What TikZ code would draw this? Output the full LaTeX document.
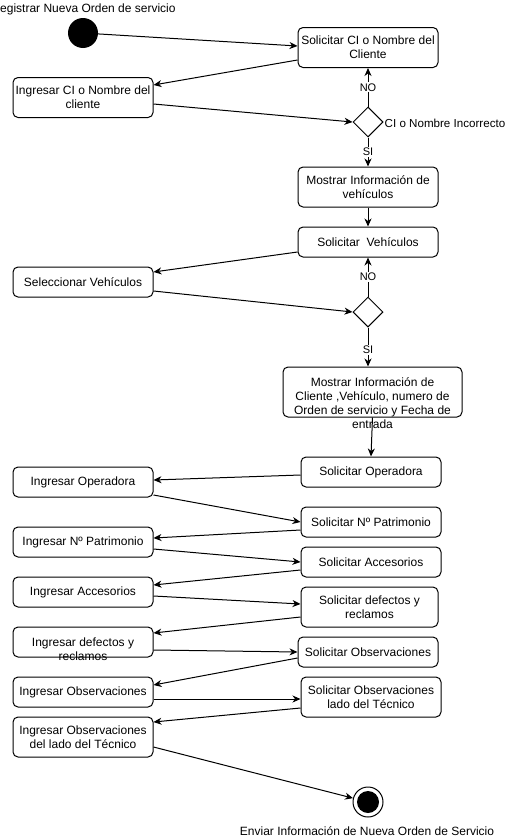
\documentclass[tikz,border=0pt]{standalone}
\usepackage{fontspec}
\setmainfont{Liberation Sans}
\usetikzlibrary{shapes.geometric,arrows.meta}
\begin{document}
\begin{tikzpicture}[x=1pt,y=-1pt,
  font=\fontsize{12}{14}\selectfont,
  act/.style={draw, line width=1pt, rounded corners=5pt, minimum width=140pt, minimum height=30pt, inner sep=1pt, align=center},
  acttall/.style={act, minimum height=40pt},
  dec/.style={draw, line width=1pt, diamond, minimum width=30pt, minimum height=30pt, inner sep=0pt},
  arr/.style={line width=1pt, -{Stealth[length=8pt,width=7pt,inset=2.5pt]}},
  lbl/.style={fill=white, inner sep=1pt, font=\fontsize{11}{13}\selectfont},
  txt/.style={inner sep=0pt, align=center}]
\useasboundingbox (0,0) rectangle (507,838);
\clip (0,0) rectangle (507,838);

% start / end
\node[circle, fill=black, minimum size=30pt, inner sep=0pt] (inicio) at (83,33) {};
\node[txt, anchor=west] (tinicio) at (0,9) {egistrar Nueva Orden de servicio};
\node[circle, draw, line width=1pt, minimum size=30pt, inner sep=0pt] (fin) at (368,802) {};
\fill (fin.center) circle (11pt);
\node[txt] (tfin) at (367,831) {Enviar Información de Nueva Orden de Servicio};

% right column
\node[acttall] (A1) at (368,47.5) {Solicitar CI o Nombre del\\Cliente};
\node[dec] (D1) at (368,122) {};
\node[txt, anchor=west, font=\fontsize{11.6}{14}\selectfont] (tD1) at (384.5,123) {CI o Nombre Incorrecto};
\node[acttall] (A2) at (368,187) {Mostrar Información de\\vehículos};
\node[act] (A3) at (368,242) {Solicitar\ \ Vehículos};
\node[dec] (D2) at (368,312) {};
\node[draw, line width=1pt, rounded corners=5pt, minimum width=179pt, minimum height=50pt] (A4) at (372.5,392) {};
\node[txt] (A4t) at (372.5,403) {Mostrar Información de\\Cliente ,Vehículo, numero de\\Orden de servicio y Fecha de\\entrada};
\node[act] (A5) at (371,472) {Solicitar Operadora};
\node[act] (A6) at (371,522) {Solicitar Nº Patrimonio};
\node[act] (A7) at (371,562) {Solicitar Accesorios};
\node[acttall, minimum width=137pt] (A8) at (369.5,607) {Solicitar defectos y\\reclamos};
\node[act] (A9) at (368,652) {Solicitar Observaciones};
\node[acttall] (A10) at (371,697) {Solicitar Observaciones\\lado del Técnico};

% left column
\node[acttall] (B1) at (83,97.5) {Ingresar CI o Nombre del\\cliente};
\node[act] (B2) at (83,282) {Seleccionar Vehículos};
\node[act] (B3) at (83,482) {Ingresar Operadora};
\node[act] (B4) at (83,542) {Ingresar Nº Patrimonio};
\node[act] (B5) at (83,592) {Ingresar Accesorios};
\node[act] (B6) at (83,642) {};
\node[txt] (B6t) at (83,649) {Ingresar defectos y\\reclamos};
\node[act] (B7) at (83,692) {Ingresar Observaciones};
\node[acttall] (B8) at (83,737) {Ingresar Observaciones\\del lado del Técnico};

% connectors
\draw[arr] (inicio) -- ([yshift=1.5pt]A1.west);
\draw[arr] ([yshift=-12.5pt]A1.west) -- ([yshift=12.5pt]B1.east);
\draw[arr] ([yshift=-6.5pt]B1.east) -- (D1.west);
\draw[arr] (D1.north) -- node[lbl] {NO} (A1.south);
\draw[arr] (D1.south) -- node[lbl] {SI} (A2.north);
\draw[arr] (A2.south) -- (A3.north);
\draw[arr] ([yshift=-10pt]A3.west) -- ([yshift=10pt]B2.east);
\draw[arr] ([yshift=-9pt]B2.east) -- (D2.west);
\draw[arr] (D2.north) -- node[lbl] {NO} (A3.south);
\draw[arr] (D2.south) -- node[lbl, pos=0.58] {SI} (D2.south |- A4.north);
\draw[arr] (A4.south) -- (A5.north);
\draw[arr] ([yshift=-3pt]A5.west) -- ([yshift=2pt]B3.east);
\draw[arr] ([yshift=-13pt]B3.east) -- (A6.west);
\draw[arr] ([yshift=-8pt]A6.west) -- ([yshift=4pt]B4.east);
\draw[arr] ([yshift=-7pt]B4.east) -- (A7.west);
\draw[arr] ([yshift=-8pt]A7.west) -- ([yshift=7pt]B5.east);
\draw[arr] ([yshift=-4pt]B5.east) -- ([yshift=3pt]A8.west);
\draw[arr] ([yshift=-10pt]A8.west) -- ([yshift=9pt]B6.east);
\draw[arr] ([yshift=-8pt]B6.east) -- (A9.west);
\draw[arr] ([yshift=-6pt]A9.west) -- ([yshift=7pt]B7.east);
\draw[arr] ([yshift=-7pt]B7.east) -- ([yshift=-2pt]A10.west);
\draw[arr] ([yshift=-11pt]A10.west) -- ([yshift=15pt]B8.east);
\draw[arr] ([yshift=-10pt]B8.east) -- (fin);
\end{tikzpicture}
\end{document}
